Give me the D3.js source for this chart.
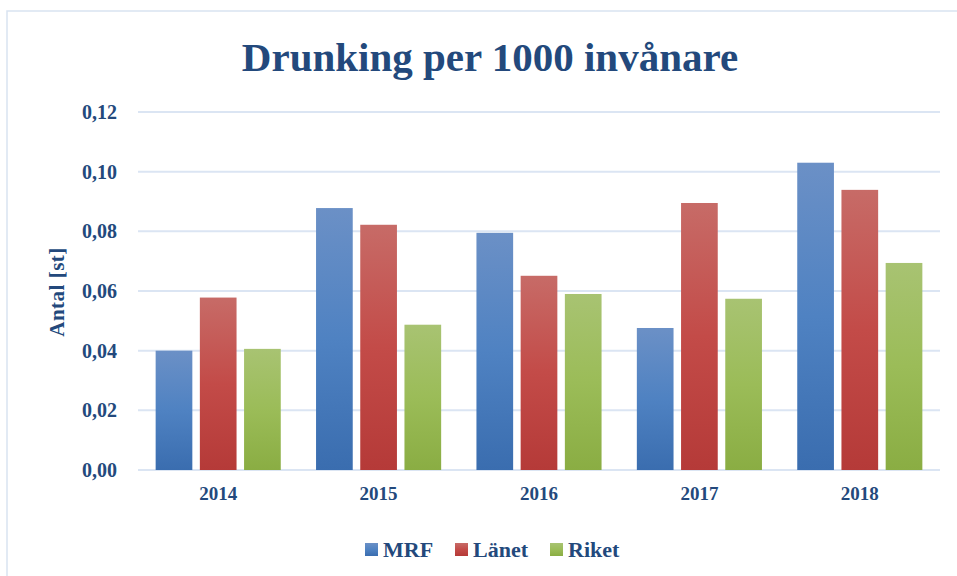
<!DOCTYPE html>
<html>
<head>
<meta charset="utf-8">
<script src="https://cdn.jsdelivr.net/npm/d3@7"></script>
<style>
body { margin: 0; background: #fff; }
text { font-family: "Liberation Serif", "DejaVu Serif", serif; font-weight: bold; fill: #23497c; }
</style>
</head>
<body>
<div id="chart"></div>
<script>
var years = ["2014", "2015", "2016", "2017", "2018"];
var seriesNames = ["MRF", "Länet", "Riket"];
var mrf = [0.0400, 0.0878, 0.0795, 0.0476, 0.1030];
var lanet = [0.0578, 0.0822, 0.0651, 0.0895, 0.0939];
var riket = [0.0406, 0.0487, 0.0590, 0.0574, 0.0694];
var yTicks = [0, 0.02, 0.04, 0.06, 0.08, 0.10, 0.12];

var W = 957, H = 576;
var margin = {top: 112, right: 17, bottom: 106, left: 138};
var width = W - margin.left - margin.right;
var height = H - margin.top - margin.bottom;

var svg = d3.select("#chart").append("svg")
    .attr("width", W)
    .attr("height", H);

// gradients, light at top, darker at bottom
var grads = [
    {id: "gBlue", c: ["#6b90c6", "#4f82c2", "#3a6daf"]},
    {id: "gRed", c: ["#c76b67", "#c34b48", "#b53a38"]},
    {id: "gGreen", c: ["#a8c372", "#9bbc58", "#8aad43"]}
];
var defs = svg.append("defs");
grads.forEach(function (g) {
    var lg = defs.append("linearGradient")
        .attr("id", g.id)
        .attr("x1", 0).attr("y1", 0).attr("x2", 0).attr("y2", 1);
    lg.append("stop").attr("offset", "0%").attr("stop-color", g.c[0]);
    lg.append("stop").attr("offset", "50%").attr("stop-color", g.c[1]);
    lg.append("stop").attr("offset", "100%").attr("stop-color", g.c[2]);
});

// outer frame
svg.append("rect")
    .attr("x", 7).attr("y", 11)
    .attr("width", W + 10).attr("height", H + 10)
    .attr("fill", "none")
    .attr("stroke", "#d9e3f1")
    .attr("stroke-width", 1.5);

svg.append("text")
    .attr("x", 490).attr("y", 71)
    .attr("text-anchor", "middle")
    .style("font-size", "41px")
    .text("Drunking per 1000 invånare");

var g = svg.append("g")
    .attr("transform", "translate(" + margin.left + "," + margin.top + ")");

var x0 = d3.scaleBand().domain(years).range([0, width]).paddingInner(0.22).paddingOuter(0.11);
var x1 = d3.scaleBand().domain(seriesNames).range([0, x0.bandwidth()]).paddingInner(0.17);
var y = d3.scaleLinear().domain([0, 0.12]).range([height, 0]);

// grid
g.selectAll(".grid")
    .data(yTicks)
    .enter().append("line")
    .attr("x1", 0).attr("x2", width)
    .attr("y1", function (d) { return y(d); })
    .attr("y2", function (d) { return y(d); })
    .attr("stroke", "#dbe5f3")
    .attr("stroke-width", 2);

var yAxis = g.append("g")
    .call(d3.axisLeft(y).tickValues(yTicks).tickSize(0).tickPadding(21)
        .tickFormat(function (d) { return d3.format(".2f")(d).replace(".", ","); }));
yAxis.select(".domain").remove();
yAxis.selectAll("text").style("font-size", "20px").attr("fill", "#23497c");

var xAxis = g.append("g")
    .attr("transform", "translate(0," + height + ")")
    .call(d3.axisBottom(x0).tickSize(0).tickPadding(17));
xAxis.select(".domain").remove();
xAxis.selectAll("text").style("font-size", "19px").attr("fill", "#23497c");

var allSeries = [mrf, lanet, riket];
var fills = ["url(#gBlue)", "url(#gRed)", "url(#gGreen)"];

allSeries.forEach(function (vals, si) {
    g.selectAll(".bar" + si)
        .data(vals)
        .enter().append("rect")
        .attr("x", function (d, i) { return x0(years[i]) + x1(seriesNames[si]); })
        .attr("y", function (d) { return y(d); })
        .attr("width", x1.bandwidth())
        .attr("height", function (d) { return height - y(d); })
        .attr("fill", fills[si]);
});

svg.append("text")
    .attr("transform", "translate(64,292) rotate(-90)")
    .attr("text-anchor", "middle")
    .style("font-size", "21px")
    .style("letter-spacing", "0.5px")
    .text("Antal [st]");

// legend
var legX = [365, 455, 550];
var legend = svg.append("g");
seriesNames.forEach(function (name, i) {
    legend.append("rect")
        .attr("x", legX[i]).attr("y", 543)
        .attr("width", 13).attr("height", 13)
        .attr("fill", fills[i]);
    legend.append("text")
        .attr("x", legX[i] + 18).attr("y", 557)
        .style("font-size", "22px")
        .text(name);
});
</script>
</body>
</html>
